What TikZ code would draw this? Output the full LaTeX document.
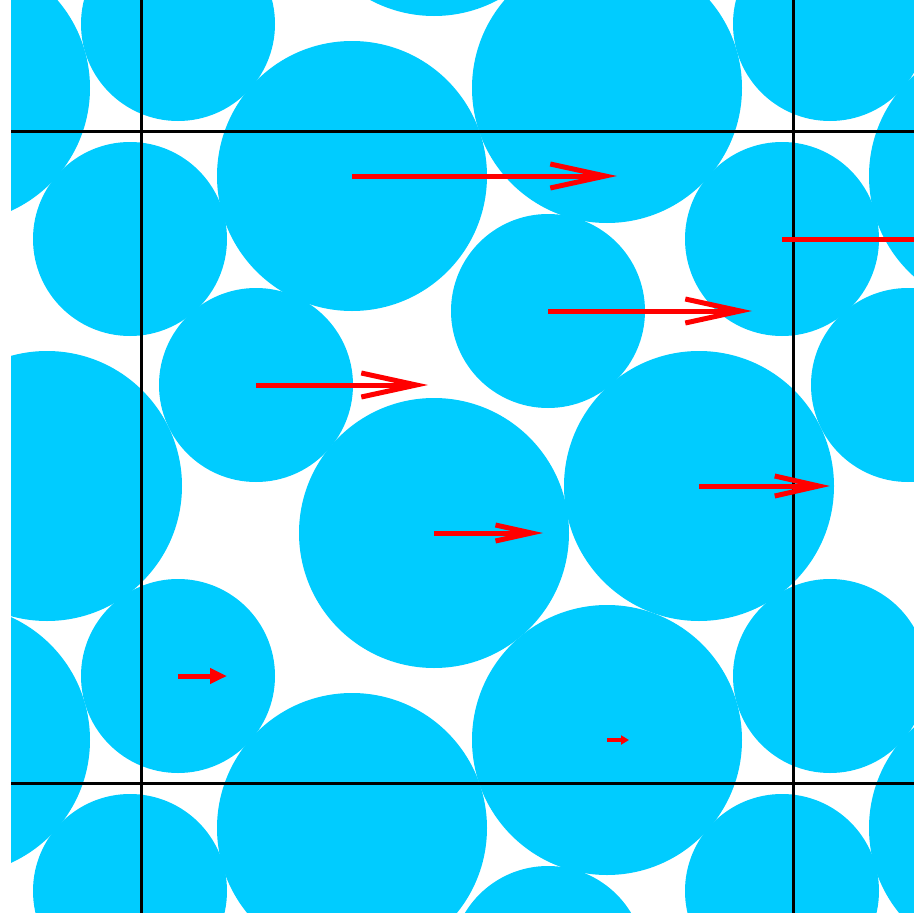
\documentclass[tikz,border=0pt]{standalone}
\usepackage{xcolor}
\usepackage{tikz}
\usetikzlibrary{arrows.meta}
\definecolor{grainblue}{HTML}{00CCFF}
\definecolor{velred}{HTML}{FF0000}

\begin{document}
\begin{tikzpicture}[x=1pt,y=-1pt]
  \useasboundingbox (0,0) rectangle (914,913);
  \clip (11,0) rectangle (914,913);
  % Scheiben in der Zelle und ihre periodischen Bilder (Zellenlaenge 652)
  \foreach \px/\py/\pr in {352/176/135,548/311/97,256/385/97,434/533/135,
                           699/486/135,607/740/135,178/676/97,782/239/97}
    \foreach \dx in {-652,0,652}
      \foreach \dy in {-652,0,652}
        \fill[grainblue] (\px+\dx,\py+\dy) circle (\pr);

  % Zellgrenzen
  \draw[line width=3pt] (11,131) -- (914,131);
  \draw[line width=3pt] (11,783) -- (914,783);
  \draw[line width=3pt] (141,0) -- (141,913);
  \draw[line width=3pt] (793,0) -- (793,913);

  % Geschwindigkeiten (Scherprofil)
  \foreach \px/\py/\len/\hl/\hw in {352/176/265/55/24,548/311/204/55/24,
                                    256/385/172/55/24,434/533/109/36/16,
                                    699/486/131/44/20,782/239/238/55/24}
    \draw[velred,line width=5pt,-{Straight Barb[length=\hl pt,width=\hw pt]}]
      (\px,\py) -- ++(\len,0);
  % kurze Pfeile mit gefuellter Spitze
  \draw[velred,line width=5pt,-{Triangle[length=17pt,width=15pt]}]
    (178,676) -- ++(49,0);
  \draw[velred,line width=4pt,-{Triangle[length=8pt,width=9pt]}]
    (607,740) -- ++(22,0);
\end{tikzpicture}
\end{document}
